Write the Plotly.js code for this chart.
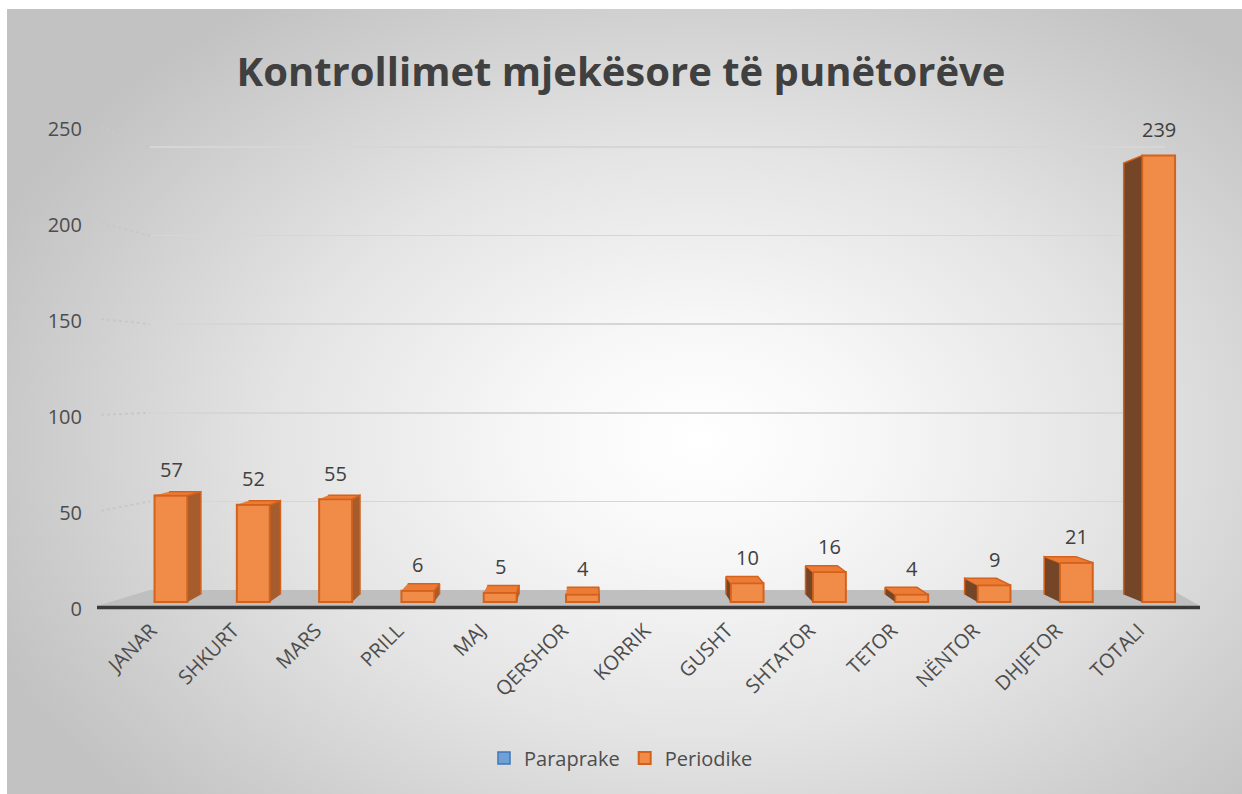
<!DOCTYPE html>
<html>
<head>
<meta charset="utf-8">
<script src="https://cdn.plot.ly/plotly-3.0.1.min.js"></script>
<style>
  html, body { margin: 0; padding: 0; background: #ffffff; }
  #bg {
    position: absolute; left: 7px; top: 9px; width: 1235px; height: 785px;
    background: radial-gradient(ellipse 62% 68% at 56% 55%, #ffffff 0%, #f7f7f7 22%, #e4e4e4 55%, #cdcdcd 85%, #c2c2c2 100%);
  }
  #chart { position: absolute; left: 0; top: 0; width: 1242px; height: 794px; }
</style>
</head>
<body>
<div id="bg"></div>
<div id="chart"></div>
<script>
// ---------------- data ----------------
const months = ['JANAR','SHKURT','MARS','PRILL','MAJ','QERSHOR','KORRIK','GUSHT','SHTATOR','TETOR','NËNTOR','DHJETOR','TOTALI'];
const paraprake = [null,null,null,null,null,null,null,null,null,null,null,null,null];
const periodike = [57,52,55,6,5,4,null,10,16,4,9,21,239];
const yTicks = [0,50,100,150,200,250];
const gridTicks = [50,100,150,200,250];
const seriesNames = ['Paraprake','Periodike'];
const titleText = 'Kontrollimet mjekësore të punëtorëve';

// ---------------- geometry (pixels) ----------------
const W = 1242, H = 794;
const px = v => v / W;
const py = v => 1 - v / H;
const plotTop = 117, plotBot = 614;
const yDom = [py(plotBot), py(plotTop)];
const barLeft = 97, barRight = 1200;
const gridLeft = 150, gridRight = 1165;
const cat0 = 171, catStep = 82.3;
const xRange = [(barLeft - cat0) / catStep, (barRight - cat0) / catStep];
const barZero = 602, barScale = 1.868;
const yRangeBar = [-(plotBot - barZero) / barScale, (barZero - plotTop) / barScale];
const gridZero = 590, gridScale = 1.772;
const yRangeGrid = [-(plotBot - gridZero) / gridScale, (gridZero - plotTop) / gridScale];
const labZero = 608.6, labScale = 1.918;
const yRangeLab = [-(plotBot - labZero) / labScale, (labZero - plotTop) / labScale];
const labShift = 20 / catStep;
const hw = 0.2; // half bar width in category units

// perspective: vanishing point (in bar data units) and depth shrink
const Vx = (590 - cat0) / catStep;
const Vy = (barZero - 380) / barScale;
const s = 1 - 0.0334;
const back = (x, y) => [Vx + (x - Vx) * s, Vy + (y - Vy) * s];

const xs = months.map((_, i) => i);

const rightX = [], rightY = [], leftX = [], leftY = [], topX = [], topY = [];
periodike.forEach((v, i) => {
  if (v == null) return;
  const rightVisible = i < Vx;
  const edge = rightVisible ? i + hw : i - hw;
  const pts = [[edge, 0], [edge, v], back(edge, v), back(edge, 0)];
  const tx = rightVisible ? rightX : leftX, ty = rightVisible ? rightY : leftY;
  pts.forEach(p => { tx.push(p[0]); ty.push(p[1]); });
  tx.push(null); ty.push(null);
  if (v < Vy) {
    const tp = [[i - hw, v], [i + hw, v], back(i + hw, v), back(i - hw, v)];
    tp.forEach(p => { topX.push(p[0]); topY.push(p[1]); });
    topX.push(null); topY.push(null);
  }
});

const edgeColor = '#D4621C';
const traces = [
  // dummy trace so the back-wall grid subplot is drawn
  { type: 'scatter', mode: 'markers', x: [null], y: [null], xaxis: 'x', yaxis: 'y', showlegend: false, hoverinfo: 'skip' },
  { type: 'bar', name: seriesNames[0], x: xs, y: paraprake, xaxis: 'x2', yaxis: 'y2', width: 2 * hw,
    marker: { color: '#6FA0D8', line: { color: '#3F77B5', width: 1.5 } }, hoverinfo: 'skip' },
  { type: 'bar', name: seriesNames[1], x: xs, y: periodike, xaxis: 'x2', yaxis: 'y2', width: 2 * hw,
    marker: { color: '#F08B48', line: { color: edgeColor, width: 2 } }, hoverinfo: 'skip' },
  { type: 'scatter', mode: 'lines', x: rightX, y: rightY, xaxis: 'x2', yaxis: 'y2', fill: 'toself',
    fillcolor: '#A65C2C', line: { color: edgeColor, width: 1.5 }, showlegend: false, hoverinfo: 'skip' },
  { type: 'scatter', mode: 'lines', x: leftX, y: leftY, xaxis: 'x2', yaxis: 'y2', fill: 'toself',
    fillcolor: '#754527', line: { color: edgeColor, width: 1.5 }, showlegend: false, hoverinfo: 'skip' },
  { type: 'scatter', mode: 'lines', x: topX, y: topY, xaxis: 'x2', yaxis: 'y2', fill: 'toself',
    fillcolor: '#EC7C35', line: { color: edgeColor, width: 1.5 }, showlegend: false, hoverinfo: 'skip' },
  // helper traces so the overlay axes exist
  { type: 'scatter', mode: 'markers', x: [null], y: [null], xaxis: 'x3', yaxis: 'y2', showlegend: false, hoverinfo: 'skip' },
  { type: 'scatter', mode: 'markers', x: [null], y: [null], xaxis: 'x2', yaxis: 'y3', showlegend: false, hoverinfo: 'skip' }
];

const annotations = periodike.map((v, i) => v == null ? null : ({
  x: i, y: v, xref: 'x2', yref: 'y2', text: String(v), showarrow: false, yshift: 26,
  font: { family: 'Open Sans', size: 20, color: '#404040' }
})).filter(a => a);

const shapes = [
  // floor
  { type: 'path', xref: 'x2', yref: 'y2', layer: 'between',
    path: `M ${xRange[0]},${(barZero-606)/barScale} L ${xRange[1]},${(barZero-606)/barScale} L ${(1172-cat0)/catStep},${(barZero-gridZero)/barScale} L ${(gridLeft-cat0)/catStep},${(barZero-gridZero)/barScale} Z`,
    fillcolor: '#BFBFBF', line: { width: 0 } },
  // floor front edge
  { type: 'line', xref: 'x2', yref: 'y2', layer: 'between',
    x0: xRange[0], x1: xRange[1], y0: (barZero-607.5)/barScale, y1: (barZero-607.5)/barScale,
    line: { color: '#3A3A3A', width: 3.5 } }
];
// left wall edges joining tick labels to back gridlines
gridTicks.forEach(v => {
  shapes.push({ type: 'path', xref: 'paper', yref: 'paper', layer: 'above',
    path: `M ${px(barLeft + 4)},${py(labZero - v * labScale - 2)} L ${px(gridLeft)},${py(gridZero - v * gridScale)}`,
    line: { color: '#C8C8C8', width: 2, dash: 'dot' } });
});

const tickFont = { family: 'Open Sans', size: 20, color: '#4D4D4D' };

const layout = {
  width: W, height: H,
  margin: { l: 0, r: 0, t: 0, b: 0 },
  paper_bgcolor: 'rgba(0,0,0,0)',
  plot_bgcolor: 'rgba(0,0,0,0)',
  barmode: 'overlay',
  showlegend: true,
  title: { text: titleText, x: 0.5, xref: 'paper', xanchor: 'center', y: py(72), yanchor: 'middle',
    font: { family: 'Open Sans', size: 40, weight: 700, color: '#404040' } },
  legend: { orientation: 'h', x: 0.5, xanchor: 'center', y: py(758), yanchor: 'middle',
    font: { family: 'Open Sans', size: 20, color: '#4D4D4D' }, bgcolor: 'rgba(0,0,0,0)', traceorder: 'normal' },
  // grid subplot (back wall)
  xaxis: { domain: [px(gridLeft), px(gridRight)], range: [0, 1], showgrid: false, zeroline: false, showline: false,
    showticklabels: false, ticks: '', fixedrange: true },
  yaxis: { domain: yDom, range: yRangeGrid, tickmode: 'array', tickvals: gridTicks, showticklabels: false, ticks: '',
    showgrid: true, gridcolor: '#D6D6D6', gridwidth: 1.5, zeroline: false, showline: false, fixedrange: true },
  // bar subplot
  xaxis2: { domain: [px(barLeft), px(barRight)], range: xRange, anchor: 'y2', showgrid: false, zeroline: false,
    showline: false, showticklabels: false, ticks: '', fixedrange: true },
  yaxis2: { domain: yDom, range: yRangeBar, anchor: 'x2', showgrid: false, zeroline: false, showline: false,
    showticklabels: false, ticks: '', fixedrange: true },
  // category labels (shifted slightly left, like the 3D projection)
  xaxis3: { overlaying: 'x2', anchor: 'y2', side: 'bottom', range: [xRange[0] + labShift, xRange[1] + labShift],
    tickmode: 'array', tickvals: xs, ticktext: months, tickangle: -45, tickfont: tickFont,
    showgrid: false, zeroline: false, showline: false, ticks: '', fixedrange: true },
  // value axis labels
  yaxis3: { overlaying: 'y2', anchor: 'x2', side: 'left', range: yRangeLab, tickmode: 'array', tickvals: yTicks,
    tickfont: tickFont, ticklabelstandoff: 14, showgrid: false, zeroline: false, showline: false, ticks: '', fixedrange: true },
  annotations: annotations,
  shapes: shapes
};

Plotly.newPlot('chart', traces, layout, { displayModeBar: false, staticPlot: true });
</script>
</body>
</html>
